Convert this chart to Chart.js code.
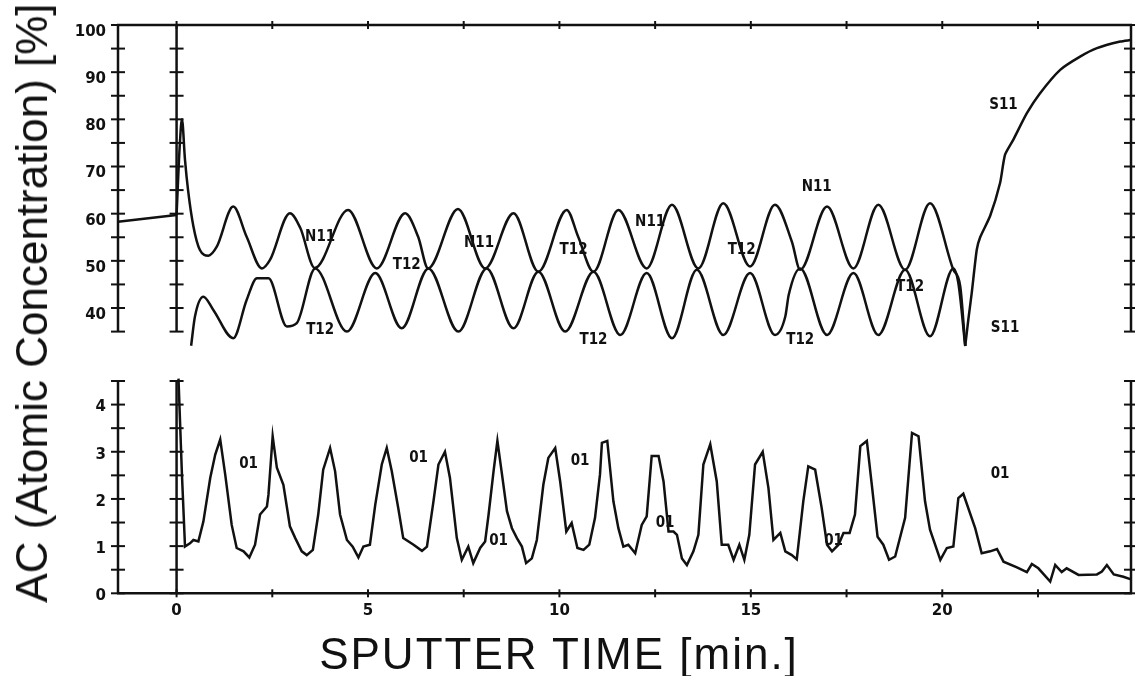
<!DOCTYPE html>
<html>
<head>
<meta charset="utf-8">
<script src="https://cdn.jsdelivr.net/npm/chart.js@4/dist/chart.umd.min.js"></script>
<style>
  body { margin: 0; background: #fff; }
  #page { position: relative; width: 1135px; height: 676px; overflow: hidden; }
  #upper-box { position: absolute; left: 0; top: 0; }
  #lower-box { position: absolute; left: 0; top: 360px; }
  .axis-title {
    position: absolute; white-space: nowrap; color: #111;
    font: 44px "Liberation Sans", Arial, sans-serif;
  }
  #ytitle { left: 32px; top: 303px; transform: translate(-50%, -50%) rotate(-90deg); }
  #xtitle { left: 559px; top: 654px; transform: translate(-50%, -50%); letter-spacing: 2px; }
</style>
</head>
<body>
<div id="page">
  <div id="upper-box"><canvas id="upper" width="1135" height="360"></canvas></div>
  <div id="lower-box"><canvas id="lower" width="1135" height="316"></canvas></div>
  <div class="axis-title" id="ytitle">AC (Atomic Concentration) [%]</div>
  <div class="axis-title" id="xtitle">SPUTTER TIME [min.]</div>
</div>
<script>
// tick values
const timeTicks = [0, 2.5, 5, 7.5, 10, 12.5, 15, 17.5, 20, 22.5];
const upperTicks = [35, 40, 45, 50, 55, 60, 65, 70, 75, 80, 85, 90, 95, 100];
const lowerTicks = [0, 0.5, 1, 1.5, 2, 2.5, 3, 3.5, 4, 4.5];

// Ni1 lead-in before sputtering starts (straight segment)
const niLeadTime = [-1.53, 0.0];
const niLeadConc = [58.3, 59.7];

// Ni1 (upper panel)
const niTime = [0.0, 0.08, 0.14, 0.22, 0.30, 0.44, 0.61, 0.83, 1.05,
  1.48, 1.83, 2.23, 2.44, 2.96, 3.23, 3.61, 4.48, 5.23, 5.97,
  6.31, 6.57, 7.35, 8.06, 8.80, 9.45, 10.19, 10.49, 10.89, 11.54,
  12.28, 12.94, 13.63, 14.28, 14.98, 15.63, 16.07, 16.29, 16.99, 17.68,
  18.33, 19.03, 19.68, 20.29, 20.47, 20.60];
const niConc = [59.7, 74, 80, 71.4, 65, 57.3, 52.3, 51.1, 53,
  61.5, 55.1, 48.4, 50.2, 60.1, 57, 48.5, 60.8, 48.4, 60.1,
  55.1, 48.4, 61, 48.4, 60.1, 47.7, 60.8, 55.1, 47.7, 60.8,
  48.4, 61.9, 48.4, 62.2, 48.8, 61.9, 54.1, 48.1, 61.5, 48.4,
  61.9, 48.1, 62.2, 48.1, 44.6, 32];

// Ti2 (upper panel)
const tiTime = [0.38, 0.48, 0.70, 0.96, 1.48, 1.83, 2.10, 2.40, 2.88, 3.14,
  3.62, 4.45, 5.19, 5.88, 6.58, 7.36, 8.10, 8.80, 9.45, 10.15,
  10.89, 11.59, 12.28, 12.94, 13.59, 14.28, 14.98, 15.63, 15.90, 15.99,
  16.29, 16.99, 17.68, 18.33, 19.03, 19.68, 20.29, 20.42, 20.60];
const tiConc = [32, 38.2, 42.4, 39.6, 33.6, 41.7, 46.3, 46.3, 36.1, 36.8,
  48.4, 35, 47.4, 35.7, 48.4, 35, 48.4, 35.7, 47.7, 35,
  47.7, 34.3, 47.4, 33.6, 48.1, 34.3, 47.4, 34.3, 38.2, 42.8,
  48.4, 34.3, 47.4, 34.3, 48.1, 34, 48.4, 45.3, 31.9];

// Si1 (upper panel)
const siTime = [20.60, 20.68, 20.77, 20.90, 20.99, 21.25, 21.51, 21.64, 21.85, 22.21,
  22.55, 23.08, 23.60, 24.04, 24.65, 24.91];
const siConc = [32, 37.5, 43.2, 52.3, 55, 59.5, 66.5, 72.5, 75.6, 81.3,
  85.5, 90.5, 93.3, 95.1, 96.5, 96.8];

// O1 (lower panel)
const oTime = [0.05, 0.14, 0.22, 0.35, 0.44, 0.57, 0.70, 0.88, 1.01, 1.14,
  1.27, 1.44, 1.57, 1.75, 1.90, 2.05, 2.18, 2.36, 2.40, 2.51,
  2.62, 2.79, 2.96, 3.10, 3.27, 3.40, 3.56, 3.70, 3.83, 4.01,
  4.14, 4.27, 4.45, 4.60, 4.75, 4.88, 5.05, 5.19, 5.36, 5.49,
  5.62, 5.79, 5.92, 6.19, 6.41, 6.54, 6.71, 6.84, 7.01, 7.14,
  7.32, 7.45, 7.62, 7.75, 7.93, 8.06, 8.15, 8.28, 8.38, 8.50,
  8.63, 8.76, 8.89, 9.02, 9.13, 9.28, 9.41, 9.58, 9.71, 9.89,
  10.02, 10.18, 10.32, 10.47, 10.63, 10.78, 10.93, 11.06, 11.11, 11.25,
  11.41, 11.54, 11.67, 11.80, 11.98, 12.15, 12.28, 12.41, 12.59, 12.72,
  12.85, 12.98, 13.07, 13.20, 13.33, 13.50, 13.63, 13.76, 13.94, 14.11,
  14.24, 14.41, 14.55, 14.70, 14.83, 14.96, 15.11, 15.31, 15.46, 15.59,
  15.77, 15.90, 16.07, 16.20, 16.37, 16.50, 16.68, 16.85, 16.99, 17.12,
  17.29, 17.42, 17.58, 17.72, 17.86, 18.03, 18.16, 18.31, 18.46, 18.61,
  18.77, 19.03, 19.21, 19.38, 19.55, 19.68, 19.95, 20.12, 20.29, 20.42,
  20.55, 20.86, 21.03, 21.25, 21.43, 21.60, 21.95, 22.21, 22.34, 22.51,
  22.82, 22.95, 23.12, 23.25, 23.56, 24.04, 24.17, 24.30, 24.48, 24.73, 24.91];
const oConc = [4.55, 2.52, 0.99, 1.06, 1.13, 1.10, 1.52, 2.45, 2.94, 3.26,
  2.52, 1.45, 0.96, 0.89, 0.76, 1.03, 1.67, 1.84, 2.09, 3.33,
  2.66, 2.30, 1.42, 1.17, 0.89, 0.81, 0.92, 1.67, 2.62, 3.08,
  2.59, 1.67, 1.13, 0.99, 0.76, 0.99, 1.03, 1.88, 2.73, 3.08,
  2.59, 1.81, 1.17, 1.03, 0.90, 0.99, 1.95, 2.73, 3.00, 2.45,
  1.17, 0.71, 0.99, 0.64, 0.96, 1.10, 1.67, 2.59, 3.23, 2.52,
  1.74, 1.38, 1.17, 0.99, 0.64, 0.74, 1.13, 2.30, 2.87, 3.08,
  2.37, 1.31, 1.49, 0.96, 0.92, 1.03, 1.60, 2.52, 3.19, 3.23,
  1.95, 1.38, 0.99, 1.03, 0.85, 1.45, 1.63, 2.91, 2.91, 2.37,
  1.31, 1.31, 1.24, 0.74, 0.60, 0.89, 1.24, 2.73, 3.16, 2.37,
  1.03, 1.03, 0.71, 1.03, 0.71, 1.24, 2.73, 3.00, 2.23, 1.13,
  1.28, 0.89, 0.81, 0.72, 1.95, 2.69, 2.62, 1.81, 1.03, 0.89,
  1.03, 1.28, 1.28, 1.67, 3.12, 3.23, 2.30, 1.20, 1.03, 0.71,
  0.78, 1.60, 3.40, 3.33, 1.95, 1.35, 0.71, 0.96, 0.99, 2.02,
  2.11, 1.38, 0.85, 0.89, 0.94, 0.67, 0.55, 0.45, 0.62, 0.53,
  0.25, 0.60, 0.45, 0.53, 0.39, 0.40, 0.46, 0.60, 0.40, 0.35, 0.30];

// peak labels as printed on the plot: [text, time, value]
const upperNotes = [
  ['N11', 3.75, 55.1], ['N11', 7.9, 53.8], ['N11', 12.37, 58.3], ['N11', 16.72, 65.7],
  ['T12', 6.01, 49.1], ['T12', 3.75, 35.3], ['T12', 10.37, 52.3], ['T12', 10.89, 33.2],
  ['T12', 14.76, 52.3], ['T12', 16.29, 33.2], ['T12', 19.16, 44.5],
  ['S11', 21.6, 83], ['S11', 21.64, 35.7]
];
const lowerNotes = [
  ['01', 1.88, 2.73], ['01', 6.32, 2.87], ['01', 8.41, 1.10], ['01', 10.54, 2.81],
  ['01', 12.76, 1.49], ['01', 17.16, 1.10], ['01', 21.51, 2.52]
];

const INK = '#111';
const X_MIN = -1.53, X_MAX = 24.93;

function pts(xs, ys) {
    return xs.map((t, i) => ({ x: t, y: ys[i] }));
}

// frame lines with cross ticks, drawn through the chart's scales
const frameAxes = {
    id: 'frameAxes',
    afterDatasetsDraw(chart, args, opts) {
        const { ctx, chartArea: a, scales: { x, y } } = chart;
        const seg = (x1, y1, x2, y2, w) => {
            ctx.lineWidth = w;
            ctx.beginPath(); ctx.moveTo(x1, y1); ctx.lineTo(x2, y2); ctx.stroke();
        };
        ctx.save();
        ctx.strokeStyle = INK;
        const hy = opts.edge === 'top' ? a.top : a.bottom;
        seg(a.left - 1, hy, a.right + 1, hy, 2.5);
        timeTicks.forEach(v => {
            const px = x.getPixelForValue(v);
            seg(px, hy - 4, px, hy + 4, 2);
        });
        [a.left, x.getPixelForValue(0), a.right].forEach(px => {
            seg(px, a.top, px, a.bottom, 2.5);
            opts.yTicks.forEach(v => {
                const py = y.getPixelForValue(v);
                seg(px - 7, py, px + 7, py, 2);
            });
        });
        ctx.restore();
    }
};

const notes = {
    id: 'notes',
    afterDatasetsDraw(chart, args, opts) {
        const { ctx, scales: { x, y } } = chart;
        ctx.save();
        ctx.fillStyle = INK;
        ctx.font = 'bold 15px "Liberation Sans Narrow", "DejaVu Sans Condensed", sans-serif';
        ctx.textAlign = 'center';
        ctx.textBaseline = 'middle';
        opts.items.forEach(([txt, tx, ty]) => {
            ctx.fillText(txt, x.getPixelForValue(tx), y.getPixelForValue(ty));
        });
        ctx.restore();
    }
};

const lineStyle = { borderColor: INK, borderWidth: 2.5, pointRadius: 0, fill: false, clip: false };
const tickFont = { family: '"DejaVu Sans", sans-serif', size: 15, weight: 'bold' };

new Chart(document.getElementById('upper'), {
    type: 'line',
    data: {
        datasets: [
            { label: 'Ni1 start', data: pts(niLeadTime, niLeadConc), tension: 0, ...lineStyle },
            { label: 'Ni1', data: pts(niTime, niConc), cubicInterpolationMode: 'monotone', ...lineStyle },
            { label: 'Ti2', data: pts(tiTime, tiConc), cubicInterpolationMode: 'monotone', ...lineStyle },
            { label: 'Si1', data: pts(siTime, siConc), tension: 0.2, ...lineStyle }
        ]
    },
    options: {
        responsive: false,
        animation: false,
        layout: { padding: { top: 25, right: 4, bottom: 28.4, left: 0 } },
        plugins: {
            legend: { display: false },
            tooltip: { enabled: false },
            frameAxes: { edge: 'top', yTicks: upperTicks },
            notes: { items: upperNotes }
        },
        scales: {
            x: { type: 'linear', min: X_MIN, max: X_MAX, display: false },
            y: {
                min: 35, max: 100,
                afterFit: s => { s.width = 118; },
                afterBuildTicks: s => { s.ticks = upperTicks.map(v => ({ value: v })); },
                grid: { display: false, drawTicks: false },
                border: { display: false },
                ticks: {
                    autoSkip: false, padding: 12, labelOffset: 7, color: INK, font: tickFont,
                    callback: v => (v % 10 === 0 ? v : '')
                }
            }
        }
    },
    plugins: [frameAxes, notes]
});

new Chart(document.getElementById('lower'), {
    type: 'line',
    data: {
        datasets: [
            { label: 'O1', data: pts(oTime, oConc), tension: 0, ...lineStyle }
        ]
    },
    options: {
        responsive: false,
        animation: false,
        layout: { padding: { top: 20, right: 4, bottom: 0, left: 0 } },
        plugins: {
            legend: { display: false },
            tooltip: { enabled: false },
            frameAxes: { edge: 'bottom', yTicks: lowerTicks },
            notes: { items: lowerNotes }
        },
        scales: {
            x: {
                type: 'linear', min: X_MIN, max: X_MAX,
                afterFit: s => { s.height = 82.7; },
                afterBuildTicks: s => { s.ticks = timeTicks.map(v => ({ value: v })); },
                grid: { display: false, drawTicks: false },
                border: { display: false },
                ticks: {
                    autoSkip: false, maxRotation: 0, padding: 9, color: INK, font: tickFont,
                    callback: v => (v % 5 === 0 ? v : '')
                }
            },
            y: {
                min: 0, max: 4.5,
                afterFit: s => { s.width = 118; },
                afterBuildTicks: s => { s.ticks = lowerTicks.map(v => ({ value: v })); },
                grid: { display: false, drawTicks: false },
                border: { display: false },
                ticks: {
                    autoSkip: false, padding: 12, labelOffset: 3, color: INK, font: tickFont,
                    callback: v => (v % 1 === 0 ? v : '')
                }
            }
        }
    },
    plugins: [frameAxes, notes]
});
</script>
</body>
</html>
